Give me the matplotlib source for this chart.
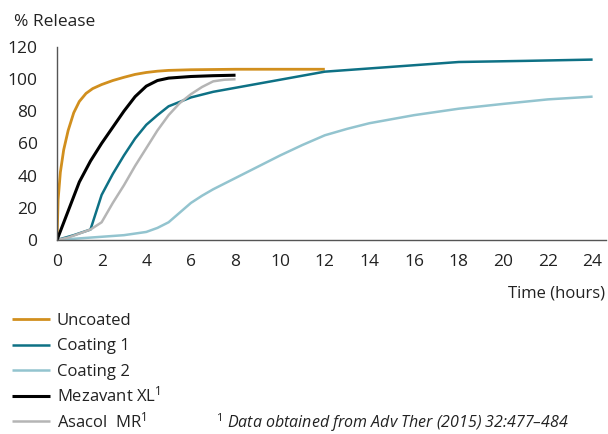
import matplotlib
matplotlib.use("Agg")
import matplotlib.pyplot as plt
from matplotlib.lines import Line2D

plt.rcParams['font.family'] = ['Open Sans', 'DejaVu Sans']
plt.rcParams['mathtext.fontset'] = 'custom'
plt.rcParams['mathtext.rm'] = 'Open Sans'
plt.rcParams['mathtext.it'] = 'Open Sans:italic'

# dissolution profiles (time in hours, % release)
uncoated_t = [0, 0.05, 0.15, 0.3, 0.5, 0.75, 1.0, 1.3, 1.6, 2.0, 2.5, 3.0, 3.5,
              4.0, 4.5, 5.0, 6.0, 8.0, 12.0]
uncoated_y = [0, 25, 42, 56, 68, 79, 86, 91, 94, 96.5, 99, 101, 102.8,
              104, 104.8, 105.3, 105.7, 106, 106]

coating1_t = [0, 0.75, 1.5, 2.0, 2.5, 3.0, 3.5, 4.0, 4.5, 5.0, 6.0, 7.0, 8.0,
              10.0, 12.0, 15.0, 18.0, 21.0, 24.0]
coating1_y = [0, 3, 6.5, 28, 41, 52.5, 63, 71.5, 77.5, 83, 88.5, 92, 94.5,
              99.5, 104.5, 107.5, 110.5, 111.2, 112]

coating2_t = [0, 1, 2, 3, 4, 4.5, 5, 5.5, 6, 6.5, 7, 8, 9, 10, 11, 12, 13, 14,
              16, 18, 20, 22, 24]
coating2_y = [0, 1, 2, 3, 5, 7.5, 11, 17, 23, 27.5, 31.5, 38.5, 45.5, 52.5, 59,
              65, 69, 72.5, 77.5, 81.5, 84.5, 87.3, 89]

mezavant_t = [0, 0.5, 1.0, 1.5, 2.0, 2.5, 3.0, 3.5, 4.0, 4.5, 5.0, 6.0, 7.0, 8.0]
mezavant_y = [0, 18, 36, 49, 60, 70, 80, 89, 95.5, 99, 100.5, 101.5, 102, 102.3]

asacol_t = [0, 0.5, 1.0, 1.5, 2.0, 2.5, 3.0, 3.5, 4.0, 4.5, 5.0, 5.5, 6.0, 6.5,
            7.0, 7.5, 8.0]
asacol_y = [0, 1.5, 4, 6.5, 11, 23, 34, 46, 57, 68, 77.5, 85, 90.5, 95,
            98.5, 99.5, 99.8]

xticks = list(range(0, 25, 2))
yticks = list(range(0, 121, 20))

fig = plt.figure(figsize=(6.08, 4.34), dpi=100)
ax = fig.add_axes([57 / 608, 1 - 240 / 434, 549 / 608, 193.3 / 434])

l1, = ax.plot(uncoated_t, uncoated_y, color='#D18F1E', lw=2.0, label='Uncoated')
l2, = ax.plot(coating1_t, coating1_y, color='#0E7185', lw=1.8, label='Coating 1')
l3, = ax.plot(coating2_t, coating2_y, color='#93C4CF', lw=1.8, label='Coating 2')
l5, = ax.plot(asacol_t, asacol_y, color='#B5B5B5', lw=1.8, label='Asacol  MR$^1$')
l4, = ax.plot(mezavant_t, mezavant_y, color='black', lw=2.2, label='Mezavant XL$^1$')
for ln in (l1, l2, l3, l4, l5):
    ln.set_solid_capstyle('butt')
    ln.set_solid_joinstyle('round')

ax.set_xlim(0, 24.6)
ax.set_ylim(0, 120)
ax.set_xticks(xticks)
ax.set_yticks(yticks)
ax.tick_params(length=0, labelsize=12.5, colors='#222222')
ax.tick_params(axis='x', pad=10)
ax.tick_params(axis='y', pad=14)
for s in ('top', 'right'):
    ax.spines[s].set_visible(False)
for s in ('left', 'bottom'):
    ax.spines[s].set_color('#555555')
    ax.spines[s].set_linewidth(1.0)

fig.text(14 / 608, 1 - 22 / 434, '% Release', fontsize=12.5, color='#222222',
         ha='left', va='center')
fig.text(605 / 608, 1 - 293 / 434, 'Time (hours)', fontsize=12, color='#222222',
         ha='right', va='center')

# legend drawn by hand, one row per series
for i, ln in enumerate([l1, l2, l3, l4, l5]):
    yc = 319 + i * 25.5
    y = 1 - yc / 434
    fig.add_artist(Line2D([12 / 608, 50 / 608], [y, y], transform=fig.transFigure,
                          color=ln.get_color(), lw=ln.get_linewidth(),
                          solid_capstyle='butt'))
    fig.text(57 / 608, 1 - (yc + 6) / 434, ln.get_label(), fontsize=12,
             color='#222222', ha='left', va='baseline')

fig.text(216 / 608, 1 - 427.5 / 434,
         '$^1$ Data obtained from Adv Ther (2015) 32:477–484',
         fontsize=11.5, style='italic', color='#222222', ha='left', va='baseline')

fig.savefig('out.png', dpi=100)
